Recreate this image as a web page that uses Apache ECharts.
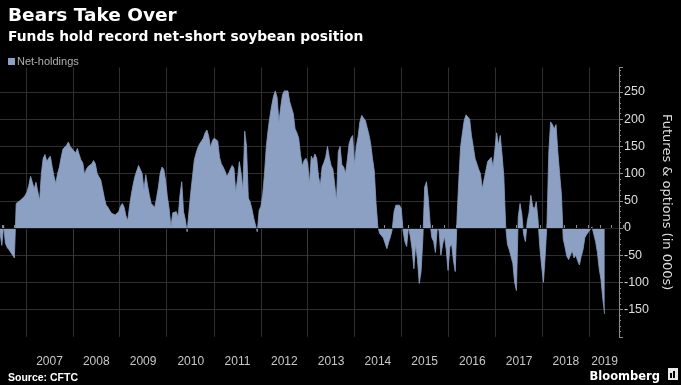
<!DOCTYPE html>
<html><head><meta charset="utf-8">
<script src="https://cdn.jsdelivr.net/npm/echarts@6/dist/echarts.min.js"></script>
<style>html,body{margin:0;padding:0;background:#000;}#c{width:681px;height:385px;}</style>
</head><body><div id="c"></div>
<script>
// Net-holdings of soybean futures & options (thousands), one reading every 14 days from 2006-06-13
const net2006 = [-8, -32, 5, -28, -36, -40, -45, -50, -55, 45, 48, 50, 52, 56, 60];
const net2007 = [66, 78, 95, 92, 72, 84, 86, 50, 100, 128, 135, 122, 128, 132, 112, 95, 82, 100, 112, 130, 145, 148, 152, 158, 150, 146];
const net2008 = [142, 138, 146, 135, 125, 120, 98, 108, 113, 112, 118, 124, 118, 100, 94, 88, 72, 55, 42, 38, 32, 27, 25, 24, 26, 30];
const net2009 = [40, 45, 38, 22, 14, 40, 62, 80, 95, 105, 115, 116, 100, 70, 98, 78, 60, 45, 42, 38, 55, 75, 100, 112, 108, 88];
const net2010 = [58, 35, 2, 28, 25, 30, 20, 60, 85, 30, 15, -7, 30, 65, 95, 125, 138, 148, 155, 160, 165, 175, 180, 168, 148, 160];
const net2011 = [165, 166, 160, 130, 118, 112, 105, 95, 100, 108, 115, 110, 66, 90, 122, 100, 70, 178, 150, 55, 48, 35, 18, 5, -7, 32];
const net2012 = [40, 62, 100, 150, 180, 205, 225, 242, 252, 240, 195, 222, 245, 252, 250, 252, 232, 235, 210, 182, 175, 165, 135, 114, 124, 128];
const net2013 = [120, 82, 132, 125, 136, 128, 95, 78, 112, 120, 130, 150, 130, 115, 108, 80, 50, 140, 150, 116, 112, 100, 125, 155, 165, 170, 115];
const net2014 = [150, 168, 195, 207, 202, 198, 185, 172, 155, 128, 105, 45, 2, -10, -13, -18, -28, -38, -26, -16, -2, 30, 42, 40, 42, 36];
const net2015 = [-5, -25, -34, 2, -15, -38, -75, -30, -58, -102, -80, -20, 75, 85, 55, 10, -18, -25, -45, 0, -5, -50, -30, -15, -40, -78];
const net2016 = [-35, -30, -60, -80, 20, 90, 150, 175, 198, 208, 210, 200, 170, 150, 128, 118, 108, 100, 72, 75, 105, 122, 125, 130, 112, 115];
const net2017 = [175, 152, 170, 135, 95, 5, -30, -40, -40, -65, -100, -115, 20, 45, 25, -12, -25, 12, 28, 60, 40, 35, 48, 15, -35, -70];
const net2018 = [-100, -50, 10, 140, 195, 190, 182, 190, 140, 100, 62, -20, -35, -52, -58, -50, -42, -55, -50, -60, -68, -52, -40, -18, -12, -15];
const net2019 = [-3, 2, 4, -25, -45, -75, -95, -130, -158];
const yearLabels = ['2007','2008','2009','2010','2011','2012','2013','2014','2015','2016','2017','2018','2019'];

const values = [].concat(net2006, net2007, net2008, net2009, net2010, net2011, net2012,
  net2013, net2014, net2015, net2016, net2017, net2018, net2019);

const DAY = 864e5;
const t0 = Date.UTC(2006, 5, 13);
const WEEKS = 689; // weekly category slots; axis runs to mid-Aug 2019
const cats = [];
for (let w = 0; w < WEEKS; w++) cats.push(new Date(t0 + w * 7 * DAY).toISOString().slice(0, 10));
const seriesData = cats.map((c, w) => (w % 2 === 0 && w / 2 < values.length) ? values[w / 2] : null);

const wk = ms => Math.round((ms - t0) / (7 * DAY));
const yearIdx = yearLabels.map(y => wk(Date.UTC(+y, 0, 1)));
const labelIdx = yearIdx.map((s, k) => Math.round((s + (k + 1 < yearIdx.length ? yearIdx[k + 1] : WEEKS - 1)) / 2));
const quarterIdx = [];
for (let y = 2006; y <= 2019; y++) for (const m of [0, 3, 6, 9]) {
  const w = wk(Date.UTC(y, m, 1)); if (w > 0 && w < WEEKS - 1) quarterIdx.push(w);
}

const FILL = '#8ca0c3';
const GRIDC = '#2f2f2f';
const AXISC = '#8c8c8c';
const chart = echarts.init(document.getElementById('c'), null, {renderer: 'canvas'});
const gridPos = {left: 0, right: 51, top: 67.5, bottom: 48.2};
chart.setOption({
  backgroundColor: '#000',
  animation: false,
  title: [
    {text: 'Bears Take Over', left: 3, top: 2, textStyle: {color: '#fff', fontSize: 18.5, fontWeight: 'bold', fontFamily: 'DejaVu Sans'}},
    {text: 'Funds hold record net-short soybean position', left: 3, top: 25, textStyle: {color: '#fff', fontSize: 13.8, fontWeight: 'bold', fontFamily: 'DejaVu Sans'}},
    {text: 'Source: CFTC', left: 3, top: 368, textStyle: {color: '#fff', fontSize: 10.5, fontWeight: 'bold', fontFamily: 'Liberation Sans'}},
    {text: 'Bloomberg', right: 16, top: 366, textStyle: {color: '#fff', fontSize: 11.5, fontWeight: 'bold', fontFamily: 'DejaVu Sans'}}
  ],
  graphic: [
    {type: 'group', right: 3, top: 368, children: [
      {type: 'rect', shape: {x: 0, y: 0, width: 10, height: 12}, style: {fill: '#e8e8e8'}},
      {type: 'rect', shape: {x: 2, y: 5, width: 2, height: 5}, style: {fill: '#000'}},
      {type: 'rect', shape: {x: 5, y: 3, width: 2, height: 7}, style: {fill: '#000'}}
    ]}
  ],
  legend: {
    data: ['Net-holdings'], left: 3, top: 51, icon: 'rect', itemWidth: 7, itemHeight: 7, itemGap: 4,
    textStyle: {color: '#b0b0b0', fontSize: 11, fontFamily: 'Liberation Sans', padding: [0, 0, 0, -3]}
  },
  grid: [Object.assign({}, gridPos), Object.assign({}, gridPos)],
  xAxis: [
    {
      type: 'category', data: cats, boundaryGap: false, gridIndex: 0,
      axisLine: {show: true, lineStyle: {color: AXISC, width: 1}},
      axisTick: {show: true, interval: i => yearIdx.includes(i), length: 33, lineStyle: {color: '#3a3a3a'}},
      axisLabel: {interval: i => labelIdx.includes(i), formatter: (v, i) => yearLabels[labelIdx.indexOf(i)] || '',
        color: '#c8c8c8', fontSize: 12, fontFamily: 'Liberation Sans', margin: 19},
      splitLine: {show: true, interval: i => yearIdx.includes(i), lineStyle: {color: GRIDC, width: 1}}
    },
    {
      type: 'category', data: cats, boundaryGap: false, gridIndex: 1,
      axisLine: {show: false},
      axisTick: {show: true, inside: true, interval: i => quarterIdx.includes(i), length: 3, lineStyle: {color: AXISC}},
      axisLabel: {show: false}, splitLine: {show: false}
    }
  ],
  yAxis: [
    {
      type: 'value', position: 'right', gridIndex: 0, min: -200, max: 295, interval: 50,
      axisLine: {show: true, lineStyle: {color: AXISC}},
      axisTick: {show: true, length: 4, lineStyle: {color: AXISC}},
      minorTick: {show: true, splitNumber: 5, length: 2, lineStyle: {color: AXISC}},
      axisLabel: {showMinLabel: false, showMaxLabel: false, color: '#dedede', fontSize: 12.5, fontFamily: 'Liberation Sans', margin: 5},
      splitLine: {show: true, showMaxLine: false, showMinLine: false, lineStyle: {color: GRIDC, width: 1}},
      name: 'Futures & options (in 000s)', nameLocation: 'middle', nameRotate: -90, nameGap: 41,
      nameTextStyle: {color: '#dedede', fontSize: 13, fontFamily: 'DejaVu Sans'}
    },
    {type: 'value', gridIndex: 1, min: -200, max: 295, show: false}
  ],
  series: [{
    name: 'Net-holdings', type: 'line', data: seriesData, connectNulls: true,
    xAxisIndex: 0, yAxisIndex: 0, symbol: 'none', showSymbol: false,
    itemStyle: {color: FILL}, lineStyle: {color: FILL, width: 0.8},
    areaStyle: {color: FILL, opacity: 1}, z: 3,
    markLine: {silent: true, symbol: 'none', label: {show: false}, animation: false,
      lineStyle: {color: '#1c1c1c', width: 1, type: 'solid'}, data: [{yAxis: 0}]}
  }]
});
</script></body></html>
